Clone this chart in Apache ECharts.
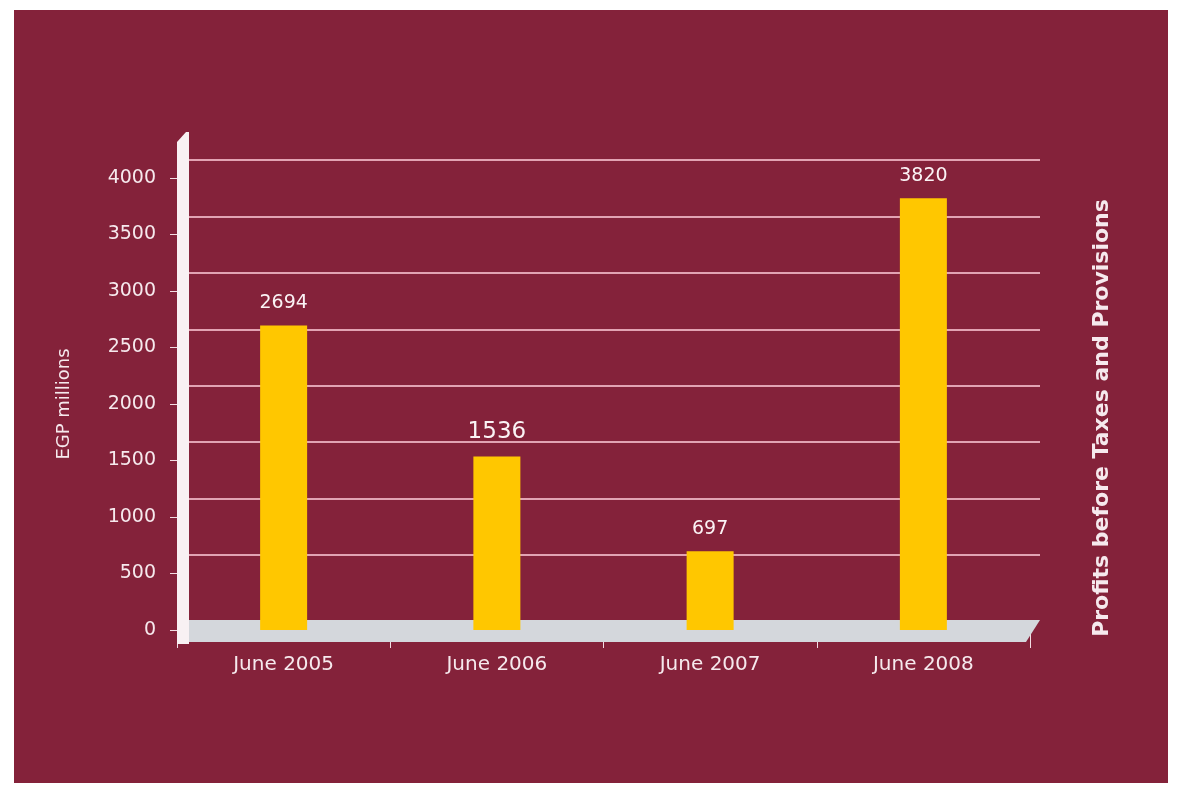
<!DOCTYPE html>
<html lang="en">
<head>
<meta charset="utf-8" />
<title>Profits before Taxes and Provisions</title>
<script src="https://cdn.jsdelivr.net/npm/echarts@6/dist/echarts.min.js"></script>
<style>
  html, body { margin: 0; padding: 0; background: #ffffff; }
  #chart { position: absolute; left: 14px; top: 10px; width: 1154px; height: 773px; background: #84223a; }
</style>
</head>
<body>
<div id="chart"></div>
<script type="text/javascript">
// data
var years = ['June 2005', 'June 2006', 'June 2007', 'June 2008'];
var profits = [2694, 1536, 697, 3820];
var yMin = 0, yMax = 4000, yStep = 500;

var txt = '#f6e9ed';
var font = 'DejaVu Sans';

var chart = echarts.init(document.getElementById('chart'));

var option = {
    animation: false,
    textStyle: { fontFamily: font },
    grid: [
        // front plane: bars, ticks, labels
        { left: 163, right: 138, top: 168, bottom: 153 },
        // back wall: gridlines only
        { left: 174, right: 128, top: 150, bottom: 228 }
    ],
    xAxis: [
        {
            type: 'category',
            gridIndex: 0,
            data: years,
            axisLine: { show: false },
            axisTick: { show: true, length: 18, lineStyle: { color: '#f2dde3', width: 1 } },
            axisLabel: { color: txt, fontSize: 20, margin: 25, fontFamily: font }
        },
        { type: 'value', gridIndex: 1, show: false, min: 0, max: 1 }
    ],
    yAxis: [
        {
            type: 'value',
            gridIndex: 0,
            min: yMin, max: yMax, interval: yStep,
            name: 'EGP millions',
            nameLocation: 'middle',
            nameGap: 104,
            nameTextStyle: { color: txt, fontSize: 18, fontFamily: font },
            axisLine: { show: false },
            axisTick: { show: true, length: 7, lineStyle: { color: '#f2dde3' } },
            axisLabel: {
                color: txt, fontSize: 19, margin: 21, fontFamily: font,
                formatter: function (v) { return String(v); }
            },
            splitLine: { show: false }
        },
        {
            type: 'value',
            gridIndex: 1,
            min: yStep, max: yMax, interval: yStep,
            axisLine: { show: false },
            axisTick: { show: false },
            axisLabel: { show: false },
            splitLine: { show: true, lineStyle: { color: '#e2a3b3', width: 2 } }
        }
    ],
    graphic: [
        {   // floor
            type: 'polygon', z: 1,
            shape: { points: [[163, 610], [1026, 610], [1012, 632], [163, 632]] },
            style: { fill: '#d4d7dc' }
        },
        {   // left wall
            type: 'polygon', z: 1,
            shape: { points: [[163, 634], [163, 132], [172, 122], [175, 122], [175, 634]] },
            style: { fill: '#f8f1f3' }
        },
        {
            type: 'text', z: 5,
            x: 1088, y: 408, rotation: Math.PI / 2,
            style: {
                text: 'Profits before Taxes and Provisions',
                fill: txt, font: 'bold 22px "DejaVu Sans"',
                align: 'center', verticalAlign: 'middle'
            }
        }
    ],
    series: [
        {
            type: 'bar',
            xAxisIndex: 0, yAxisIndex: 0,
            z: 3,
            barWidth: 47,
            itemStyle: { color: '#ffc700' },
            label: { show: true, position: 'top', distance: 13, color: '#fbf3f5', fontSize: 19, fontFamily: font },
            data: profits.map(function (v, i) {
                return i === 1 ? { value: v, label: { fontSize: 23 } } : v;
            })
        }
    ]
};

chart.setOption(option);
</script>
</body>
</html>
